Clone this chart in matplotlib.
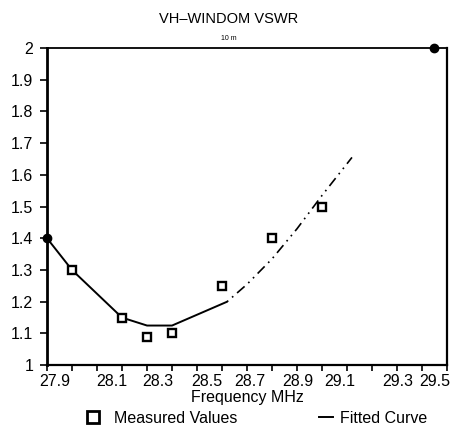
##############################################################################
# VH-WINDOM VSWR, 10 m band
##############################################################################
import numpy as np
import matplotlib.pyplot as plt
from matplotlib.lines import Line2D

plt.rcParams['font.family'] = ['Liberation Sans Narrow', 'Liberation Sans', 'DejaVu Sans']

###############################################################################
# Data
###############################################################################
MEAS_FREQ = [28.0, 28.2, 28.3, 28.4, 28.6, 28.8, 29.0]
MEAS_VSWR = [1.30, 1.15, 1.09, 1.10, 1.25, 1.40, 1.50]

FIT_FREQ = [27.9, 28.0, 28.2, 28.3, 28.4, 28.62]
FIT_VSWR = [1.40, 1.30, 1.15, 1.125, 1.125, 1.20]
FIT_FREQ_EXT = [28.62, 28.7, 28.8, 28.9, 29.0, 29.12]
FIT_VSWR_EXT = [1.20, 1.255, 1.335, 1.43, 1.535, 1.655]

END_FREQ = [27.9, 29.45]
END_VSWR = [1.40, 2.00]

XTICK_LABELS = ['27.9', '28.1', '28.3', '28.5', '28.7', '28.9', '29.1', '29.3', '29.5']
YTICK_LABELS = ['1', '1.1', '1.2', '1.3', '1.4', '1.5', '1.6', '1.7', '1.8', '1.9', '2']

###############################################################################
# Figure
###############################################################################
fig = plt.figure(figsize=(4.57, 4.40), dpi=100, facecolor='w')
ax = fig.add_axes([0.103, 0.170, 0.875, 0.721])

ax.plot(FIT_FREQ, FIT_VSWR, color='k', lw=1.4, solid_capstyle='round')
ax.plot(FIT_FREQ_EXT, FIT_VSWR_EXT, color='k', lw=1.2,
        linestyle=(0, (1, 3, 1, 3, 6, 3)))
ax.plot(MEAS_FREQ, MEAS_VSWR, ls='none', marker='s', ms=5.5,
        mfc='w', mec='k', mew=1.7)
ax.plot(END_FREQ, END_VSWR, ls='none', marker='o', ms=6, color='k',
        clip_on=False, zorder=5)

ax.set_xlim(27.9, 29.5)
ax.set_ylim(1, 2)

# ticks every 0.1 MHz, labels where the original placed them
ax.set_xticks(np.linspace(27.9, 29.5, 17), labels=[''] * 17)
XLABEL_AT = [27.932, 28.16, 28.344, 28.54, 28.712, 28.904, 29.072, 29.305, 29.452]
ax.set_xticks(XLABEL_AT, labels=XTICK_LABELS, minor=True)
ax.tick_params(axis='x', which='minor', length=0, pad=6, labelsize=11.5)
ax.tick_params(axis='x', which='major', length=4, width=1.2, direction='out')

ax.set_yticks(np.linspace(1, 2, 11), labels=YTICK_LABELS)
ax.tick_params(axis='y', length=5, width=1.2, direction='out', pad=5,
               labelsize=11.5)

ax.spines['left'].set_linewidth(2.0)
ax.spines['bottom'].set_linewidth(1.6)
ax.spines['right'].set_linewidth(1.6)
ax.spines['top'].set_linewidth(1.3)

ax.set_xlabel('Frequency MHz', fontsize=11.5, labelpad=1)

fig.text(0.5, 0.957, 'VH\u2013WINDOM VSWR', ha='center', va='center',
         fontsize=10.5, family=['Liberation Sans', 'DejaVu Sans'])
fig.text(0.5, 0.912, '10 m', ha='center', va='center', fontsize=5,
         family=['Liberation Sans', 'DejaVu Sans'])

# legend entries placed separately, as on the original sheet
leg1 = fig.legend(
    [Line2D([], [], ls='none', marker='s', ms=8, mfc='w', mec='k', mew=2)],
    ['Measured Values'], loc='center left', bbox_to_anchor=(0.168, 0.05),
    frameon=False, fontsize=11.5, borderpad=0, handlelength=1.0,
    handletextpad=0.8)
leg2 = fig.legend(
    [Line2D([], [], color='k', lw=1.4)],
    ['Fitted Curve'], loc='center left', bbox_to_anchor=(0.68, 0.05),
    frameon=False, fontsize=11.5, borderpad=0, handlelength=0.9,
    handletextpad=0.45)

plt.savefig('out.png', dpi=100, facecolor='w')
plt.close('all')
